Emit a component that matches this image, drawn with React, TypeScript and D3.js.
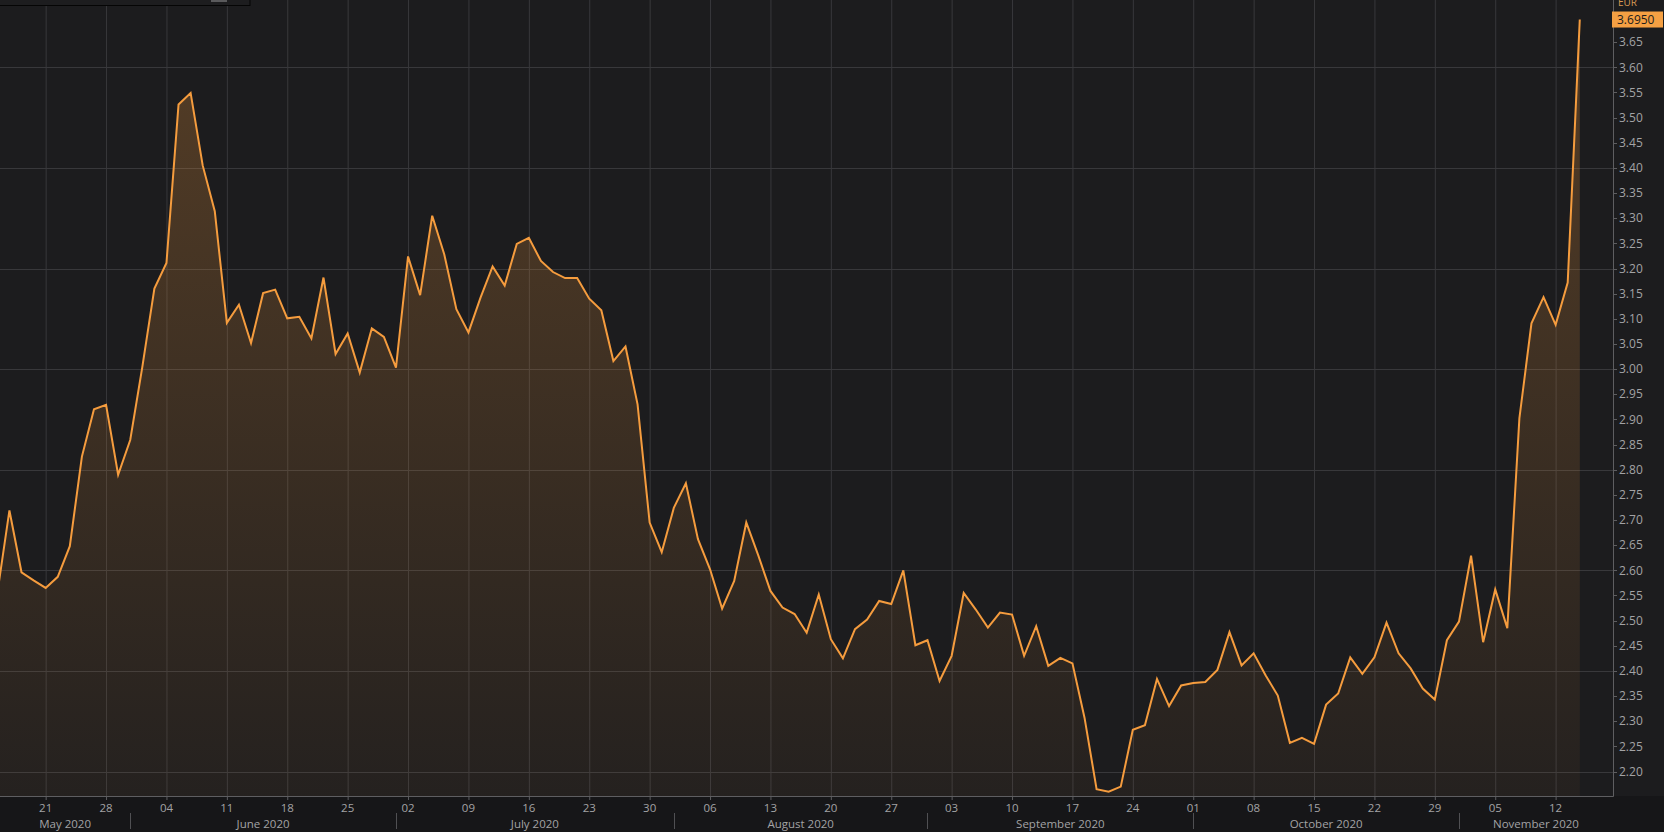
import React, { useEffect, useRef } from 'react';
import * as d3 from 'd3';

// daily closes (business days), one array per month
const firstDay = '2020-05-15';
const lastDay = '2020-11-16';

const mayValues = [2.555, 2.719, 2.596, 2.580, 2.565, 2.587, 2.648, 2.826, 2.920, 2.929, 2.790];
const juneValues = [
  2.859, 3.004, 3.160, 3.211, 3.526,
  3.549, 3.405, 3.314, 3.092, 3.128,
  3.052, 3.151, 3.158, 3.101, 3.104,
  3.061, 3.182, 3.030, 3.071, 2.993,
  3.081, 3.064
];
const julyValues = [
  3.003, 3.224, 3.147,
  3.305, 3.228, 3.119, 3.073, 3.142,
  3.204, 3.166, 3.249, 3.261, 3.215,
  3.193, 3.181, 3.181, 3.140, 3.117,
  3.016, 3.045, 2.930, 2.695, 2.636
];
const augustValues = [
  2.724, 2.773, 2.662, 2.602, 2.524,
  2.579, 2.695, 2.629, 2.559, 2.526,
  2.513, 2.476, 2.552, 2.463, 2.425,
  2.483, 2.502, 2.539, 2.533, 2.600,
  2.451
];
const septemberValues = [
  2.461, 2.380, 2.430, 2.555,
  2.522, 2.486, 2.516, 2.512, 2.430,
  2.489, 2.410, 2.426, 2.415, 2.307,
  2.165, 2.160, 2.170, 2.283, 2.292,
  2.384, 2.330, 2.371
];
const octoberValues = [
  2.376, 2.378,
  2.402, 2.477, 2.411, 2.435, 2.391,
  2.351, 2.257, 2.267, 2.255, 2.333,
  2.355, 2.427, 2.394, 2.427, 2.496,
  2.435, 2.405, 2.365, 2.343, 2.461
];
const novemberValues = [
  2.498, 2.629, 2.457, 2.562, 2.485,
  2.902, 3.091, 3.143, 3.088, 3.172,
  3.695
];

const monthLabels = ['May 2020', 'June 2020', 'July 2020', 'August 2020', 'September 2020', 'October 2020', 'November 2020'];
const yTickLabels = [
  '2.20', '2.25', '2.30', '2.35', '2.40', '2.45', '2.50', '2.55', '2.60', '2.65', '2.70', '2.75',
  '2.80', '2.85', '2.90', '2.95', '3.00', '3.05', '3.10', '3.15', '3.20', '3.25', '3.30', '3.35',
  '3.40', '3.45', '3.50', '3.55', '3.60', '3.65'
];
const yGridValues = [2.2, 2.4, 2.6, 2.8, 3.0, 3.2, 3.4, 3.6];
const currency = 'EUR';
const lastLabel = '3.6950';

const App = () => {
  const svgRef = useRef(null);

  const width = 1664;
  const height = 832;
  const plotRight = 1613;
  const plotBottom = 796;

  useEffect(() => {
    const svg = d3.select(svgRef.current);
    svg.selectAll('*').remove();

    const parse = d3.utcParse('%Y-%m-%d');
    const days = d3.utcDay
      .range(parse(firstDay) as Date, d3.utcDay.offset(parse(lastDay) as Date, 1))
      .filter(d => d.getUTCDay() !== 0 && d.getUTCDay() !== 6);

    const values = [
      ...mayValues, ...juneValues, ...julyValues, ...augustValues,
      ...septemberValues, ...octoberValues, ...novemberValues
    ];
    const data = days.map((date, i) => ({ date, i, value: values[i] }));
    const last = data[data.length - 1];

    // x is a business-day index scale (weekends collapsed)
    const x = d3.scaleLinear().domain([0.22, 133.75]).range([0, plotRight]);
    const y = d3.scaleLinear().domain([2.1513, 3.7338]).range([plotBottom, 0]);

    const font = '"Open Sans", sans-serif';
    const labelColor = '#a3a3a5';
    const gridColor = '#38383b';
    const axisColor = '#5e5e61';

    const defs = svg.append('defs');
    const grad = defs.append('linearGradient')
      .attr('id', 'areaFill')
      .attr('gradientUnits', 'userSpaceOnUse')
      .attr('x1', 0).attr('y1', 0).attr('x2', 0).attr('y2', plotBottom);
    grad.append('stop').attr('offset', 0).attr('stop-color', '#f59b3c').attr('stop-opacity', 0.27);
    grad.append('stop').attr('offset', 1).attr('stop-color', '#f59b3c').attr('stop-opacity', 0.04);

    defs.append('clipPath').attr('id', 'plotClip')
      .append('rect')
      .attr('x', 0).attr('y', 0).attr('width', plotRight).attr('height', plotBottom);

    // background
    svg.append('rect').attr('width', width).attr('height', height).attr('fill', '#1c1c1e');
    svg.append('rect')
      .attr('y', plotBottom).attr('width', width).attr('height', height - plotBottom)
      .attr('fill', '#161618');

    const thursdays = data.filter(d => d.date.getUTCDay() === 4);
    const monthStarts = data.filter((d, k) => k > 0 && d.date.getUTCMonth() !== data[k - 1].date.getUTCMonth());

    // grid
    svg.append('g')
      .selectAll('line')
      .data(thursdays)
      .join('line')
      .attr('x1', d => x(d.i) + 0.5).attr('x2', d => x(d.i) + 0.5)
      .attr('y1', 0).attr('y2', plotBottom)
      .attr('stroke', gridColor);

    svg.append('g')
      .selectAll('line')
      .data(yGridValues)
      .join('line')
      .attr('x1', 0).attr('x2', plotRight)
      .attr('y1', d => Math.round(y(d)) + 0.5).attr('y2', d => Math.round(y(d)) + 0.5)
      .attr('stroke', gridColor);

    // series
    const plot = svg.append('g').attr('clip-path', 'url(#plotClip)');

    const area = d3.area<any>()
      .x(d => x(d.i))
      .y0(plotBottom)
      .y1(d => y(d.value));

    const line = d3.line<any>()
      .x(d => x(d.i))
      .y(d => y(d.value));

    plot.append('path')
      .datum(data)
      .attr('fill', 'url(#areaFill)')
      .attr('d', area);

    plot.append('path')
      .datum(data)
      .attr('fill', 'none')
      .attr('stroke', '#f59c3e')
      .attr('stroke-width', 2)
      .attr('d', line);

    // axis lines
    svg.append('line')
      .attr('x1', 0).attr('x2', plotRight + 0.5)
      .attr('y1', plotBottom + 0.5).attr('y2', plotBottom + 0.5)
      .attr('stroke', axisColor);
    svg.append('line')
      .attr('x1', plotRight + 0.5).attr('x2', plotRight + 0.5)
      .attr('y1', 0).attr('y2', plotBottom + 0.5)
      .attr('stroke', axisColor);

    // y axis
    const yAxis = svg.append('g')
      .style('font', `12px ${font}`);

    yAxis.selectAll('line')
      .data(yTickLabels)
      .join('line')
      .attr('x1', plotRight).attr('x2', plotRight + 4)
      .attr('y1', d => Math.round(y(+d)) + 0.5).attr('y2', d => Math.round(y(+d)) + 0.5)
      .attr('stroke', axisColor);

    yAxis.selectAll('text')
      .data(yTickLabels)
      .join('text')
      .attr('x', plotRight + 6)
      .attr('y', d => y(+d))
      .attr('dy', '0.35em')
      .attr('fill', labelColor)
      .text(d => d);

    // last value badge
    svg.append('rect')
      .attr('x', plotRight - 1).attr('y', y(last.value) - 8)
      .attr('width', 51).attr('height', 16)
      .attr('fill', '#f5a043');
    svg.append('text')
      .attr('x', plotRight + 4).attr('y', y(last.value))
      .attr('dy', '0.35em')
      .style('font', `12px ${font}`)
      .attr('fill', '#1c1c1c')
      .text(lastLabel);

    svg.append('text')
      .attr('x', plotRight + 5).attr('y', 6)
      .style('font', `10px ${font}`)
      .attr('fill', '#d89a55')
      .text(currency);

    // x axis: weekly ticks
    const xAxis = svg.append('g')
      .style('font', `11.5px ${font}`);

    xAxis.selectAll('line')
      .data(thursdays)
      .join('line')
      .attr('x1', d => x(d.i) + 0.5).attr('x2', d => x(d.i) + 0.5)
      .attr('y1', plotBottom).attr('y2', plotBottom + 4)
      .attr('stroke', axisColor);

    xAxis.selectAll('text')
      .data(thursdays)
      .join('text')
      .attr('x', d => x(d.i))
      .attr('y', plotBottom + 16)
      .attr('text-anchor', 'middle')
      .attr('fill', labelColor)
      .text(d => d3.utcFormat('%d')(d.date));

    // month separators and labels
    const bounds = [0, ...monthStarts.map(d => x(d.i)), plotRight];

    svg.append('g')
      .selectAll('line')
      .data(monthStarts)
      .join('line')
      .attr('x1', d => Math.round(x(d.i)) + 0.5).attr('x2', d => Math.round(x(d.i)) + 0.5)
      .attr('y1', plotBottom + 17).attr('y2', plotBottom + 33)
      .attr('stroke', '#505053');

    svg.append('g')
      .style('font', `11.5px ${font}`)
      .selectAll('text')
      .data(monthLabels)
      .join('text')
      .attr('x', (d, k) => (bounds[k] + bounds[k + 1]) / 2)
      .attr('y', plotBottom + 32)
      .attr('text-anchor', 'middle')
      .attr('fill', labelColor)
      .text(d => d);

    // clipped legend box at top-left
    svg.append('rect')
      .attr('x', -1).attr('y', -10).attr('width', 251).attr('height', 15.5)
      .attr('fill', '#1d1d1f')
      .attr('stroke', '#050505');
    svg.append('rect')
      .attr('x', 211).attr('y', -2).attr('width', 16).attr('height', 4)
      .attr('fill', '#5a5a5c');
  }, []);

  return (
    <svg
      ref={svgRef}
      width={width}
      height={height}
      style={{ position: 'absolute', left: 0, top: 0, display: 'block' }}
    />
  );
};

export default App;
